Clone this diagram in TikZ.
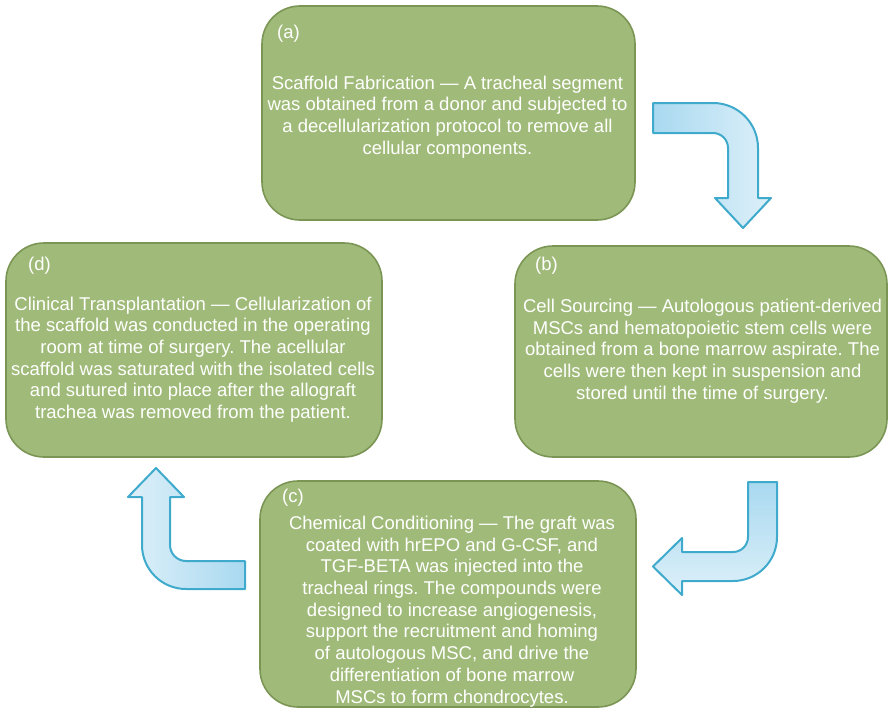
\documentclass[tikz,border=0pt]{standalone}
\usepackage{fontspec}
\setmainfont{Liberation Sans}
\frenchspacing
\definecolor{boxfill}{HTML}{A0BB79}
\definecolor{boxline}{HTML}{7B9555}
\definecolor{arrline}{HTML}{3FAACB}
\definecolor{arrdark}{HTML}{A9D9F0}
\definecolor{arrlight}{HTML}{DDF0F9}
\tikzset{
  stagebox/.style={draw=boxline, line width=1.6pt, fill=boxfill, rounded corners=38pt, inner sep=0pt},
  stagetext/.style={text=white, align=center, inner sep=0pt, font=\fontsize{18.5}{21.7}\selectfont\frenchspacing},
  stagelabel/.style={text=white, anchor=west, inner sep=0pt, font=\fontsize{18.5}{21.7}\selectfont},
  blockarrow/.style={draw=arrline, line width=2pt, line join=round}
}
\begin{document}
\begin{tikzpicture}[x=1pt,y=-1pt]
\useasboundingbox (0,0) rectangle (889,712);
% boxes
\node[stagebox, minimum width=373pt, minimum height=214pt] (a) at (448.5,113) {};
\node[stagebox, minimum width=372pt, minimum height=211pt] (b) at (701,351.5) {};
\node[stagebox, minimum width=376pt, minimum height=226pt] (c) at (448,594) {};
\node[stagebox, minimum width=376pt, minimum height=214pt] (d) at (194,350) {};
% labels
\node[stagelabel] (la) at (277,34) {(a)};
\node[stagelabel] (lb) at (535,266) {(b)};
\node[stagelabel] (lc) at (282,498) {(c)};
\node[stagelabel] (ld) at (28,266) {(d)};
% texts
\node[stagetext] (ta) at (447.5,117) {Scaffold Fabrication — A tracheal segment\\was obtained from a donor and subjected to\\a decellularization protocol to remove all\\cellular components.};
\node[stagetext] (tb) at (702.5,351) {Cell Sourcing — Autologous patient-derived\\MSCs and hematopoietic stem cells were\\obtained from a bone marrow aspirate. The\\cells were then kept in suspension and\\stored until the time of surgery.};
\node[stagetext] (tc) at (452,611.5) {Chemical Conditioning — The graft was\\coated with hrEPO and G-CSF, and\\TGF-BETA was injected into the\\tracheal rings. The compounds were\\designed to increase angiogenesis,\\support the recruitment and homing\\of autologous MSC, and drive the\\differentiation of bone marrow\\MSCs to form chondrocytes.};
\node[stagetext] (td) at (193,359.5) {Clinical Transplantation — Cellularization of\\the scaffold was conducted in the operating\\room at time of surgery. The acellular\\scaffold was saturated with the isolated cells\\and sutured into place after the allograft\\trachea was removed from the patient.};
% arrow a -> b
\draw[blockarrow, left color=arrdark, right color=arrlight]
  (653,103) -- (713,103) .. controls (737.9,103) and (758,123.1) .. (758,148)
  -- (758,198) -- (771,198) -- (743,228) -- (715,198) -- (728,198) -- (728,148)
  .. controls (728,139.7) and (721.3,133) .. (713,133) -- (653,133) -- cycle;
% arrow b -> c
\draw[blockarrow, top color=arrdark, bottom color=arrlight]
  (748,482) -- (777,482) -- (777,537) .. controls (777,561.3) and (757.3,581) .. (733,581)
  -- (682,581) -- (682,595) -- (653,566.5) -- (682,538) -- (682,552) -- (733,552)
  .. controls (741.3,552) and (748,545.3) .. (748,537) -- cycle;
% arrow c -> d
\draw[blockarrow, left color=arrlight, right color=arrdark]
  (245,561) -- (186,561) .. controls (177.2,561) and (170,553.8) .. (170,545)
  -- (170,497) -- (184,497) -- (156,468) -- (128,497) -- (142,497) -- (142,545)
  .. controls (142,569.3) and (161.7,589) .. (186,589) -- (245,589) -- cycle;
\end{tikzpicture}
\end{document}
